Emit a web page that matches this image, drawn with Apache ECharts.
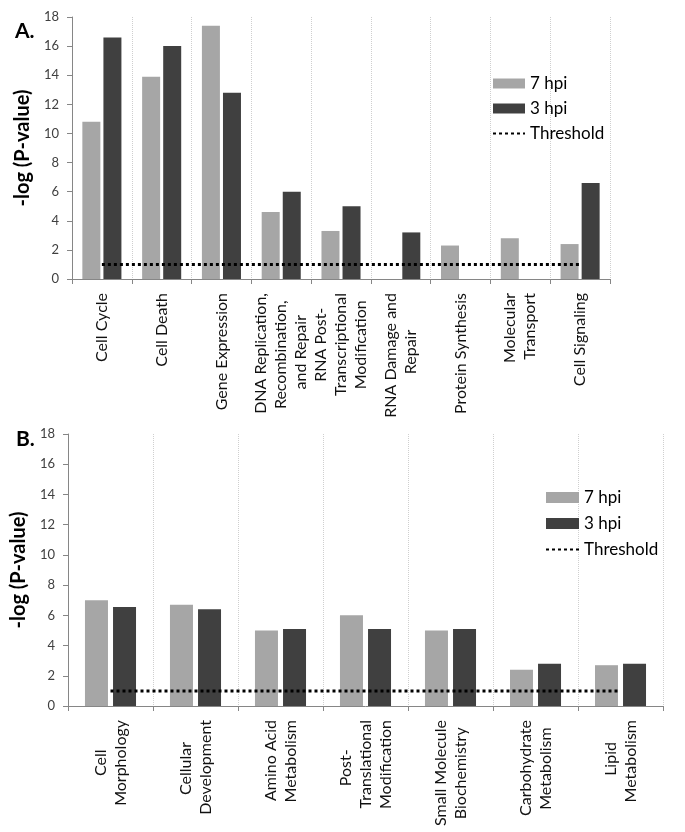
<!DOCTYPE html>
<html>
<head>
<meta charset="utf-8">
<script src="https://cdn.jsdelivr.net/npm/echarts@6.0.0/dist/echarts.min.js"></script>
<style>
  html, body { margin: 0; padding: 0; background: #fff; }
  #main { width: 685px; height: 832px; }
</style>
</head>
<body>
<div id="main"></div>
<script>
// panel A
var catsA = ['Cell Cycle', 'Cell Death', 'Gene Expression',
  'DNA Replication,\nRecombination,\nand Repair', 'RNA Post-\nTranscriptional\nModification',
  'RNA Damage and\nRepair', 'Protein Synthesis', 'Molecular\nTransport', 'Cell Signaling'];
var hpi7A = [10.8, 13.9, 17.4, 4.6, 3.3, 0, 2.3, 2.8, 2.4];
var hpi3A = [16.6, 16.0, 12.8, 6.0, 5.0, 3.2, 0, 0, 6.6];
var thrA = [1, 1, 1, 1, 1, 1, 1, 1, 1];

// panel B
var catsB = ['Cell\nMorphology', 'Cellular\nDevelopment', 'Amino Acid\nMetabolism',
  'Post-\nTranslational\nModification', 'Small Molecule\nBiochemistry',
  'Carbohydrate\nMetabolism', 'Lipid\nMetabolism'];
var hpi7B = [7.0, 6.7, 5.0, 6.0, 5.0, 2.4, 2.7];
var hpi3B = [6.55, 6.4, 5.1, 5.1, 5.1, 2.8, 2.8];
var thrB = [1, 1, 1, 1, 1, 1, 1];

var yTicks = { min: 0, max: 18, interval: 2 };

var FONT = 'Lato';
var LABEL_SIZE = 16;
var LIGHT = '#a6a6a6';
var DARK = '#404040';
var AXIS = '#868686';

var chart = echarts.init(document.getElementById('main'));

// rotated labels come out right aligned; put an invisible filler after
// the short lines so they sit centred under the longest one
var ctx = document.createElement('canvas').getContext('2d');
ctx.font = LABEL_SIZE + 'px ' + FONT;
var fillW = ctx.measureText('_').width || 8;
function centerLines(v) {
  var lines = v.split('\n');
  var widths = lines.map(function (s) { return ctx.measureText(s).width; });
  var maxW = Math.max.apply(null, widths);
  return lines.map(function (s, i) {
    var n = Math.round((maxW - widths[i]) / 2 / fillW);
    var out = '{t|' + s + '}';
    if (n > 0) out += '{p|' + new Array(n + 1).join('_') + '}';
    return out;
  }).join('\n');
}

var labelRich = {
  t: { fontFamily: FONT, fontSize: LABEL_SIZE, lineHeight: 20, color: '#111' },
  p: { fontFamily: FONT, fontSize: LABEL_SIZE, lineHeight: 20, color: 'rgba(255,255,255,0)' }
};

function xAxisFor(idx, cats) {
  return {
    type: 'category',
    gridIndex: idx,
    data: cats,
    axisLine: { lineStyle: { color: AXIS } },
    axisTick: { show: true, length: 5, lineStyle: { color: AXIS } },
    splitLine: { show: true, lineStyle: { color: '#cfcfcf', type: 'dotted', width: 1 } },
    axisLabel: {
      interval: 0,
      rotate: 90,
      margin: 14,
      fontFamily: FONT,
      fontSize: LABEL_SIZE,
      color: '#111',
      formatter: centerLines,
      rich: labelRich
    }
  };
}

function yAxisFor(idx) {
  return {
    type: 'value',
    gridIndex: idx,
    min: yTicks.min,
    max: yTicks.max,
    interval: yTicks.interval,
    name: '-log (P-value)',
    nameLocation: 'middle',
    nameGap: 37,
    nameTextStyle: { fontFamily: FONT, fontSize: 20, fontWeight: 'bold', color: '#000' },
    axisLine: { show: true, lineStyle: { color: AXIS } },
    axisTick: { show: true, length: 5, lineStyle: { color: AXIS } },
    splitLine: { show: false },
    axisLabel: { fontFamily: FONT, fontSize: 13, color: '#404040', margin: 13 }
  };
}

function legendFor(left, top, w, h, gap) {
  return {
    orient: 'vertical',
    left: left,
    top: top,
    padding: 0,
    itemWidth: w,
    itemHeight: h,
    itemGap: gap,
    textStyle: { fontFamily: FONT, fontSize: 17, lineHeight: 15, color: '#000' },
    data: [
      { name: '7 hpi', icon: 'rect' },
      { name: '3 hpi', icon: 'rect' },
      { name: 'Threshold', itemStyle: { opacity: 0 } }
    ]
  };
}

var option = {
  backgroundColor: '#fff',
  animation: false,
  graphic: [
    { type: 'text', left: 15, top: 21, style: { text: 'A.', font: 'bold 21px Lato', fill: '#000' } },
    { type: 'text', left: 16, top: 429, style: { text: 'B.', font: 'bold 21px Lato', fill: '#000' } }
  ],
  legend: [
    legendFor(492, 75, 32, 10, 8),
    legendFor(545, 489, 33, 11, 9)
  ],
  grid: [
    { left: 72, right: 75, top: 17, height: 262 },
    { left: 68, right: 22, top: 434, height: 272 }
  ],
  xAxis: [xAxisFor(0, catsA), xAxisFor(1, catsB)],
  yAxis: [yAxisFor(0), yAxisFor(1)],
  series: [
    { name: '7 hpi', type: 'bar', xAxisIndex: 0, yAxisIndex: 0, data: hpi7A,
      barWidth: 18, barGap: '17%', itemStyle: { color: LIGHT } },
    { name: '3 hpi', type: 'bar', xAxisIndex: 0, yAxisIndex: 0, data: hpi3A,
      barWidth: 18, barGap: '17%', itemStyle: { color: DARK } },
    { name: 'Threshold', type: 'line', xAxisIndex: 0, yAxisIndex: 0, data: thrA,
      symbol: 'none', lineStyle: { color: '#000', width: 3, type: [3, 3] }, itemStyle: { color: '#000' } },

    { name: '7 hpi', type: 'bar', xAxisIndex: 1, yAxisIndex: 1, data: hpi7B,
      barWidth: 23, barGap: '22%', itemStyle: { color: LIGHT } },
    { name: '3 hpi', type: 'bar', xAxisIndex: 1, yAxisIndex: 1, data: hpi3B,
      barWidth: 23, barGap: '22%', itemStyle: { color: DARK } },
    { name: 'Threshold', type: 'line', xAxisIndex: 1, yAxisIndex: 1, data: thrB,
      symbol: 'none', lineStyle: { color: '#000', width: 3, type: [3, 3] }, itemStyle: { color: '#000' } }
  ]
};

chart.setOption(option);
</script>
</body>
</html>
